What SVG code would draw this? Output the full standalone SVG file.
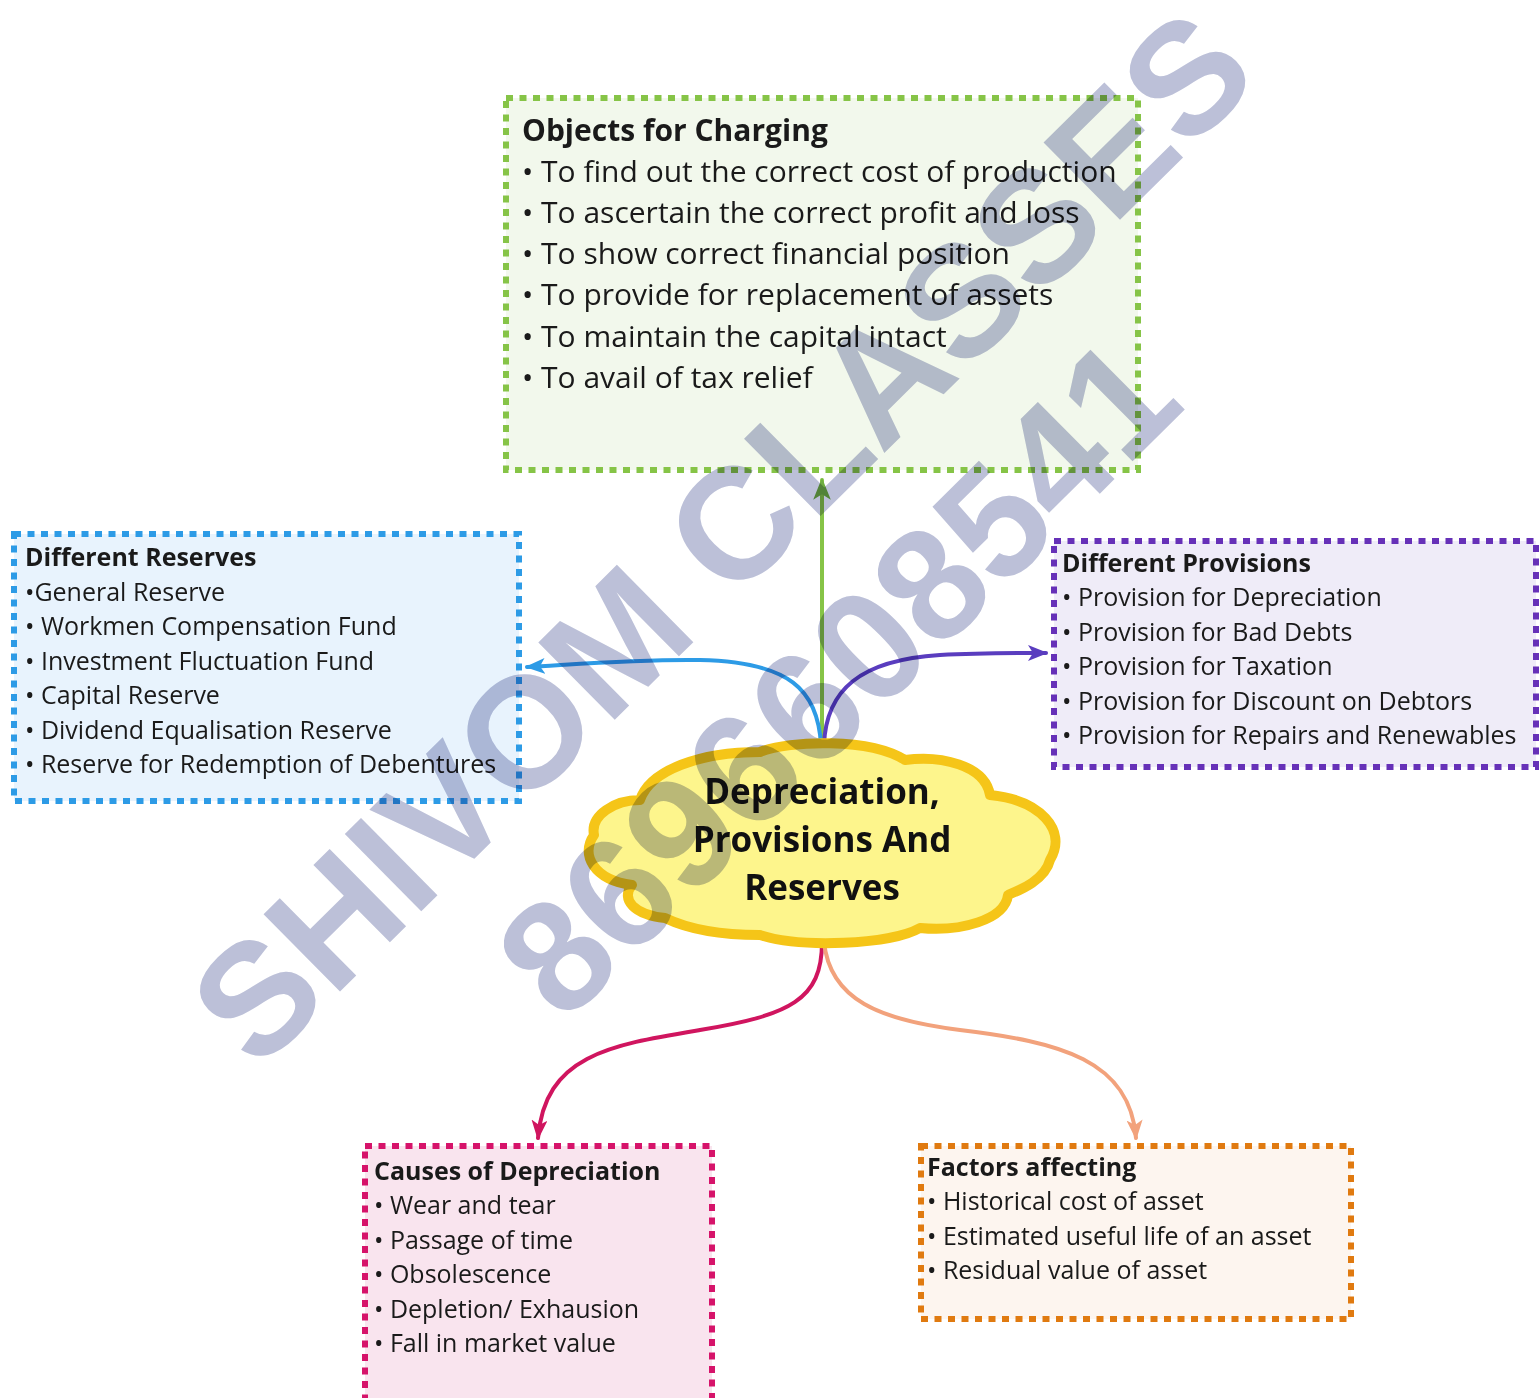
<svg xmlns="http://www.w3.org/2000/svg" width="1540" height="1398" viewBox="0 0 1540 1398">
<style>
.box{stroke-width:6;stroke-dasharray:7 6.5}
.t{font-family:"Open Sans","Liberation Sans",sans-serif;fill:#1a1a1a}
.h{font-weight:700}
.big{font-size:30px}
.sm{font-size:25px}
.c{font-family:"Open Sans","Liberation Sans",sans-serif;font-weight:700;font-size:35px;fill:#111;text-anchor:middle}
.con{fill:none;stroke-width:4;stroke-linecap:round}
.wm{font-family:"Liberation Sans",Arial,sans-serif;font-weight:700;fill:#bcc0d8;text-anchor:middle;mix-blend-mode:multiply}
</style>
<defs>
<marker id="aG" viewBox="0 0 20 16" refX="18" refY="8" markerWidth="22" markerHeight="18" markerUnits="userSpaceOnUse" orient="auto"><path d="M0,0 L20,8 L0,16 L5,8 Z" fill="#6fae42"/></marker>
<marker id="aB" viewBox="0 0 20 16" refX="18" refY="8" markerWidth="20" markerHeight="16" markerUnits="userSpaceOnUse" orient="auto"><path d="M0,0 L20,8 L0,16 L5,8 Z" fill="#2d9be6"/></marker>
<marker id="aP" viewBox="0 0 20 16" refX="18" refY="8" markerWidth="20" markerHeight="16" markerUnits="userSpaceOnUse" orient="auto"><path d="M0,0 L20,8 L0,16 L5,8 Z" fill="#5a3dbf"/></marker>
<marker id="aR" viewBox="0 0 20 16" refX="18" refY="8" markerWidth="20" markerHeight="16" markerUnits="userSpaceOnUse" orient="auto"><path d="M0,0 L20,8 L0,16 L5,8 Z" fill="#d0155f"/></marker>
<marker id="aO" viewBox="0 0 20 16" refX="18" refY="8" markerWidth="20" markerHeight="16" markerUnits="userSpaceOnUse" orient="auto"><path d="M0,0 L20,8 L0,16 L5,8 Z" fill="#f2a27c"/></marker>
</defs>
<rect width="1540" height="1398" fill="#ffffff"/>

<g id="connectors">
<path class="con" d="M822 745 L822 480" stroke="#86c447" marker-end="url(#aG)"/>
<path class="con" d="M821 745 C818 690,790 662,700 660 C640 659,580 664,527 667" stroke="#2d9be6" marker-end="url(#aB)"/>
<path class="con" d="M824 745 C826 690,860 660,940 655 C980 653,1010 653,1046 653" stroke="#5a3dbf" marker-end="url(#aP)"/>
<path class="con" d="M822 942 C822 1000,790 1015,700 1030 C610 1045,545 1055,538 1138" stroke="#d0155f" marker-end="url(#aR)"/>
<path class="con" d="M824 942 C830 1000,880 1020,960 1030 C1060 1042,1130 1060,1136 1138" stroke="#f2a27c" marker-end="url(#aO)"/>
</g>

<g id="objects">
<rect class="box" x="506" y="98" width="632" height="372" fill="#f2f8ec" stroke="#86c447"/>
<text class="t h big" x="522" y="141">Objects for Charging</text>
<text class="t big" x="522" y="182">• To find out the correct cost of production</text>
<text class="t big" x="522" y="223">• To ascertain the correct profit and loss</text>
<text class="t big" x="522" y="264">• To show correct financial position</text>
<text class="t big" x="522" y="305">• To provide for replacement of assets</text>
<text class="t big" x="522" y="347">• To maintain the capital intact</text>
<text class="t big" x="522" y="388">• To avail of tax relief</text>
</g>

<g id="reserves">
<rect class="box" x="14" y="534" width="505" height="267" fill="#e8f3fd" stroke="#2d9be6"/>
<text class="t h sm" x="25" y="566">Different Reserves</text>
<text class="t sm" x="25" y="601">•General Reserve</text>
<text class="t sm" x="25" y="635">• Workmen Compensation Fund</text>
<text class="t sm" x="25" y="670">• Investment Fluctuation Fund</text>
<text class="t sm" x="25" y="704">• Capital Reserve</text>
<text class="t sm" x="25" y="739">• Dividend Equalisation Reserve</text>
<text class="t sm" x="25" y="773">• Reserve for Redemption of Debentures</text>
</g>

<g id="provisions">
<rect class="box" x="1054" y="541" width="482" height="226" fill="#efecf8" stroke="#6631b8"/>
<text class="t h sm" x="1062" y="572">Different Provisions</text>
<text class="t sm" x="1062" y="606">• Provision for Depreciation</text>
<text class="t sm" x="1062" y="641">• Provision for Bad Debts</text>
<text class="t sm" x="1062" y="675">• Provision for Taxation</text>
<text class="t sm" x="1062" y="710">• Provision for Discount on Debtors</text>
<text class="t sm" x="1062" y="744">• Provision for Repairs and Renewables</text>
</g>

<g id="center">
<path d="M640 800 C650 770,700 752,760 752 C790 740,870 738,905 760 C940 755,985 765,990 795 C1040 800,1068 830,1050 860 C1045 880,1020 890,1008 895 C1005 920,960 932,920 928 C890 945,800 948,760 935 C720 935,690 930,665 918 C635 915,620 900,632 885 C594 880,580 855,594 835 C590 815,615 800,640 800 Z" fill="#fdf58c" stroke="#f5c518" stroke-width="10" stroke-linejoin="round"/>
<text class="c" x="822" y="804">Depreciation,</text>
<text class="c" x="822" y="852">Provisions And</text>
<text class="c" x="822" y="900">Reserves</text>
</g>

<g id="causes">
<rect class="box" x="365" y="1146" width="347" height="260" fill="#f9e4ee" stroke="#d6136a"/>
<text class="t h sm" x="374" y="1180">Causes of Depreciation</text>
<text class="t sm" x="374" y="1214">• Wear and tear</text>
<text class="t sm" x="374" y="1249">• Passage of time</text>
<text class="t sm" x="374" y="1283">• Obsolescence</text>
<text class="t sm" x="374" y="1318">• Depletion/ Exhausion</text>
<text class="t sm" x="374" y="1352">• Fall in market value</text>
</g>

<g id="factors">
<rect class="box" x="921" y="1146" width="430" height="173" fill="#fdf5ef" stroke="#e07a10"/>
<text class="t h sm" x="927" y="1176">Factors affecting</text>
<text class="t sm" x="927" y="1210">• Historical cost of asset</text>
<text class="t sm" x="927" y="1245">• Estimated useful life of an asset</text>
<text class="t sm" x="927" y="1279">• Residual value of asset</text>
</g>

<g id="watermark">
<text class="wm" font-size="158" transform="translate(760 576) rotate(-44.7)">SHIVOM CLASSES</text>
<text class="wm" font-size="158" transform="translate(876 716) rotate(-44.8)">8696608541</text>
</g>
</svg>
